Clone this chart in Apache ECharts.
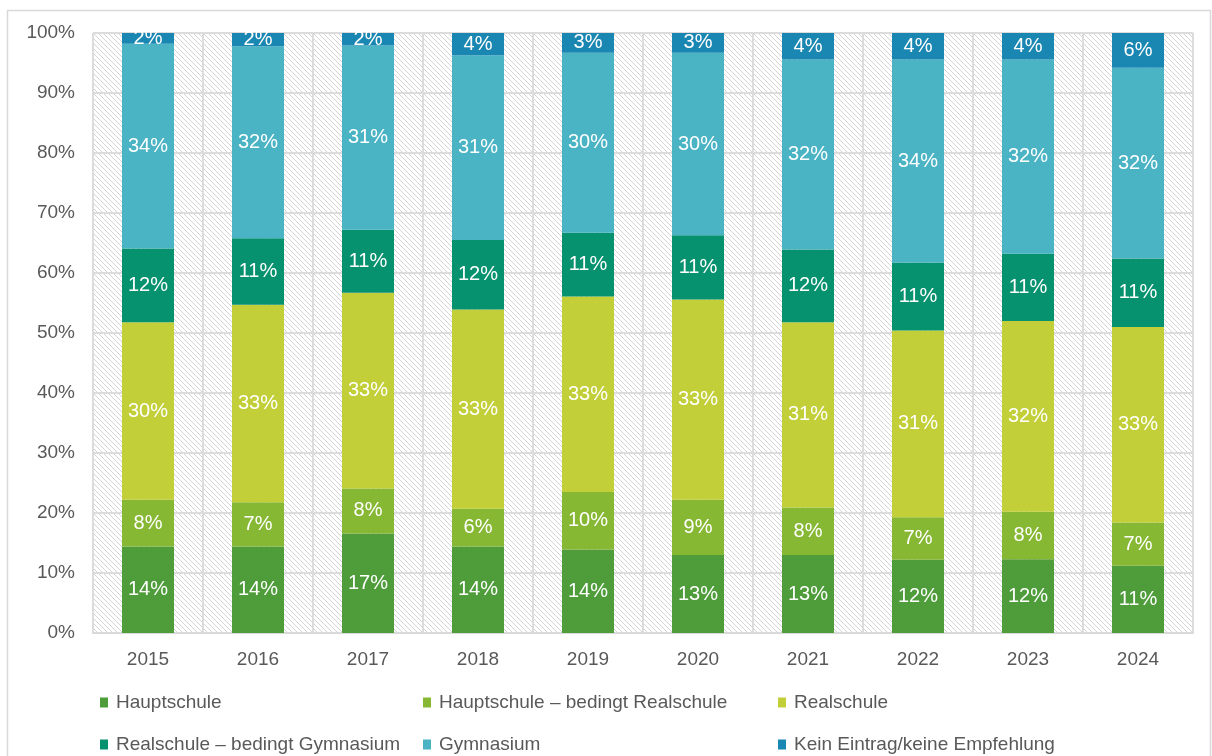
<!DOCTYPE html>
<html>
<head>
<meta charset="utf-8">
<script src="https://cdn.jsdelivr.net/npm/echarts@6/dist/echarts.min.js"></script>
<style>
	html, body { margin: 0; padding: 0; background: #fff; }
	#chart { width: 1212px; height: 756px; }
</style>
</head>
<body>
<div id="chart"></div>
<script>
const years = [ "2015", "2016", "2017", "2018", "2019", "2020", "2021", "2022", "2023", "2024" ];
const hauptschule = [ 14.4, 14.4, 16.6, 14.4, 13.9, 13.0, 13.0, 12.2, 12.3, 11.2 ];
const hauptBedingtReal = [ 7.8, 7.4, 7.5, 6.3, 9.6, 9.2, 7.9, 7.1, 7.9, 7.2 ];
const realschule = [ 29.6, 32.9, 32.6, 33.2, 32.6, 33.4, 30.9, 31.1, 31.8, 32.6 ];
const realBedingtGym = [ 12.3, 11.1, 10.5, 11.6, 10.6, 10.7, 12.1, 11.3, 11.2, 11.4 ];
const gymnasium = [ 34.1, 32.0, 30.7, 30.8, 30.0, 30.4, 31.7, 33.9, 32.4, 31.8 ];
const keinEintrag = [ 1.8, 2.2, 2.1, 3.7, 3.3, 3.3, 4.4, 4.4, 4.4, 5.8 ];

const seriesNames = [
	"Hauptschule",
	"Hauptschule – bedingt Realschule",
	"Realschule",
	"Realschule – bedingt Gymnasium",
	"Gymnasium",
	"Kein Eintrag/keine Empfehlung"
];
const seriesData = [ hauptschule, hauptBedingtReal, realschule, realBedingtGym, gymnasium, keinEintrag ];
const colors = [ "#4e9c3a", "#87b834", "#c2cf39", "#06916f", "#4ab3c4", "#1a87b3" ];

// hatched plot background
function hatch() {
	const s = 5;
	const c = document.createElement( "canvas" );
	c.width = s;
	c.height = s;
	const ctx = c.getContext( "2d" );
	ctx.fillStyle = "#ffffff";
	ctx.fillRect( 0, 0, s, s );
	ctx.strokeStyle = "#d4d4d4";
	ctx.lineWidth = 1;
	ctx.beginPath();
	ctx.moveTo( 0, 0 );
	ctx.lineTo( s, s );
	ctx.moveTo( s - 1, -1 );
	ctx.lineTo( s + 1, 1 );
	ctx.moveTo( -1, s - 1 );
	ctx.lineTo( 1, s + 1 );
	ctx.stroke();
	return c;
}

const font = "'Liberation Sans', Arial, sans-serif";
const chart = echarts.init( document.getElementById( "chart" ) );

function legend( left, names ) {
	return {
		orient: "vertical",
		left,
		top: 693,
		bottom: 0,
		padding: 0,
		itemGap: 23,
		itemWidth: 8,
		itemHeight: 10,
		icon: "rect",
		selectedMode: false,
		data: names,
		textStyle: {
			color: "#595959",
			fontSize: 19,
			fontFamily: font,
			padding: [ 0, 0, 0, 3 ]
		}
	};
}

chart.setOption( {
	animation: false,
	color: colors,
	textStyle: { fontFamily: font },
	graphic: [ {
		type: "rect",
		shape: { x: 7.5, y: 10.5, width: 1203, height: 760 },
		style: { fill: "none", stroke: "#d9d9d9", lineWidth: 1.5 },
		silent: true
	} ],
	grid: {
		left: 93,
		right: 19,
		top: 33,
		bottom: 123,
		show: true,
		backgroundColor: { image: hatch(), repeat: "repeat" },
		borderColor: "#dcdcdc",
		borderWidth: 1
	},
	legend: [
		legend( 100, [ seriesNames[ 0 ], seriesNames[ 3 ] ] ),
		legend( 423, [ seriesNames[ 1 ], seriesNames[ 4 ] ] ),
		legend( 778, [ seriesNames[ 2 ], seriesNames[ 5 ] ] )
	],
	xAxis: {
		type: "category",
		data: years,
		axisLine: { lineStyle: { color: "#d9d9d9", width: 2 } },
		axisTick: { show: false },
		splitLine: { show: true, lineStyle: { color: "#dcdcdc", width: 2 } },
		axisLabel: { color: "#595959", fontSize: 19, margin: 17 }
	},
	yAxis: {
		type: "value",
		min: 0,
		max: 100,
		interval: 10,
		axisLine: { show: false },
		axisTick: { show: false },
		splitLine: { lineStyle: { color: "#dcdcdc", width: 2 } },
		axisLabel: { color: "#595959", fontSize: 19, margin: 18, formatter: "{value}%" }
	},
	series: seriesData.map( ( d, i ) => ( {
		name: seriesNames[ i ],
		type: "bar",
		stack: "total",
		barWidth: 52,
		data: d,
		label: {
			show: true,
			position: "inside",
			color: "#ffffff",
			fontSize: 20,
			formatter: p => `${ Math.round( p.value ) }%`
		}
	} ) )
} );
</script>
</body>
</html>
